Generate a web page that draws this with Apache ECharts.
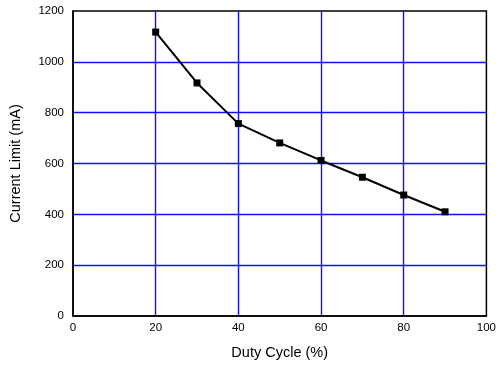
<!DOCTYPE html>
<html>
<head>
<meta charset="utf-8">
<script src="https://cdn.jsdelivr.net/npm/echarts@6/dist/echarts.min.js"></script>
<style>
  html, body { margin: 0; padding: 0; background: #fff; }
  #chart { width: 499px; height: 365px; }
</style>
</head>
<body>
<div id="chart"></div>
<script>
// duty cycle (%) vs current limit (mA)
var dutyCycle = [20, 30, 40, 50, 60, 70, 80, 90];
var currentLimit = [1117, 917, 757, 681, 612, 546, 476, 410];

var points = dutyCycle.map(function (d, i) { return [d, currentLimit[i]]; });

var font = 'Liberation Sans, Arial, sans-serif';
var gridBlue = 'rgb(16, 16, 255)';

var chart = echarts.init(document.getElementById('chart'), null, { renderer: 'canvas' });

chart.setOption({
    animation: false,
    grid: { left: 73, top: 11, right: 11, bottom: 48, show: true, borderColor: '#000', borderWidth: 1.5 },
    xAxis: {
        type: 'value', min: 0, max: 100, interval: 20,
        name: 'Duty Cycle (%)', nameLocation: 'middle', nameGap: 29,
        nameTextStyle: { fontFamily: font, fontSize: 14.5, color: '#000' },
        axisLine: { show: true, onZero: false, lineStyle: { color: '#000', width: 1.5 } },
        axisTick: { show: false },
        axisLabel: { fontFamily: font, fontSize: 11.5, color: '#000', margin: 6 },
        splitLine: { showMinLine: false, showMaxLine: false, lineStyle: { color: gridBlue, width: 1.4 } }
    },
    yAxis: {
        type: 'value', min: 0, max: 1200, interval: 200,
        name: 'Current Limit (mA)', nameLocation: 'middle', nameGap: 50,
        nameTextStyle: { fontFamily: font, fontSize: 14.5, color: '#000' },
        axisLine: { show: true, lineStyle: { color: '#000', width: 1.5 } },
        axisTick: { show: false },
        axisLabel: {
            fontFamily: font, fontSize: 11.5, color: '#000', margin: 9,
            formatter: function (v) { return String(v); }
        },
        splitLine: { showMinLine: false, showMaxLine: false, lineStyle: { color: gridBlue, width: 1.4 } }
    },
    series: [{
        type: 'line',
        data: points,
        symbol: 'rect',
        symbolSize: 7,
        lineStyle: { color: '#000', width: 2 },
        itemStyle: { color: '#000' }
    }]
});
</script>
</body>
</html>
